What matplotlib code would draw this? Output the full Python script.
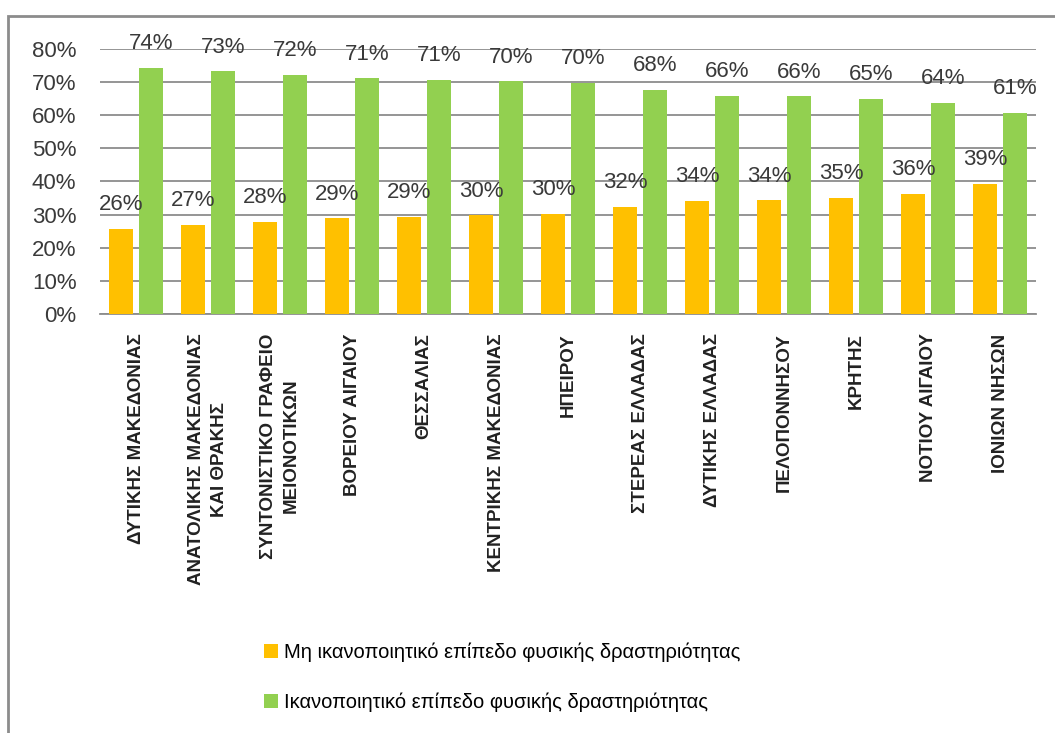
import matplotlib
import matplotlib.pyplot as plt
import numpy as np
from matplotlib.patches import Rectangle

matplotlib.use("Agg")

regions = [
    "ΔΥΤΙΚΗΣ ΜΑΚΕΔΟΝΙΑΣ",
    "ΑΝΑΤΟΛΙΚΗΣ ΜΑΚΕΔΟΝΙΑΣ\nΚΑΙ ΘΡΑΚΗΣ",
    "ΣΥΝΤΟΝΙΣΤΙΚΟ ΓΡΑΦΕΙΟ\nΜΕΙΟΝΟΤΙΚΩΝ",
    "ΒΟΡΕΙΟΥ ΑΙΓΑΙΟΥ",
    "ΘΕΣΣΑΛΙΑΣ",
    "ΚΕΝΤΡΙΚΗΣ ΜΑΚΕΔΟΝΙΑΣ",
    "ΗΠΕΙΡΟΥ",
    "ΣΤΕΡΕΑΣ ΕΛΛΑΔΑΣ",
    "ΔΥΤΙΚΗΣ ΕΛΛΑΔΑΣ",
    "ΠΕΛΟΠΟΝΝΗΣΟΥ",
    "ΚΡΗΤΗΣ",
    "ΝΟΤΙΟΥ ΑΙΓΑΙΟΥ",
    "ΙΟΝΙΩΝ ΝΗΣΩΝ",
]
not_enough = [25.7, 26.8, 27.8, 28.9, 29.3, 29.8, 30.2, 32.4, 34.2, 34.3, 35.0, 36.3, 39.2]
enough = [74.3, 73.2, 72.2, 71.1, 70.7, 70.2, 69.8, 67.6, 65.8, 65.7, 65.0, 63.7, 60.8]
series_names = [
    "Μη ικανοποιητικό επίπεδο φυσικής δραστηριότητας",
    "Ικανοποιητικό επίπεδο φυσικής δραστηριότητας",
]
yticks = [0, 10, 20, 30, 40, 50, 60, 70, 80]

txt_font = ["Liberation Sans", "DejaVu Sans"]

fig = plt.figure(figsize=(10.55, 7.33), dpi=100)
ax = fig.add_axes([0.0948, 0.5716, 0.8872, 0.3616])

x = np.arange(len(regions))
w = 0.33
off = 0.205
b1 = ax.bar(x - off, not_enough, w, color="#FFC000", label=series_names[0], zorder=3)
b2 = ax.bar(x + off, enough, w, color="#92D050", label=series_names[1], zorder=3)

for bars, vals in [(b1, not_enough), (b2, enough)]:
    for rect, v in zip(bars, vals):
        ax.annotate(f"{round(v)}%", (rect.get_x() + rect.get_width() / 2, v),
                    xytext=(0, 13.5), textcoords="offset points",
                    ha="center", va="baseline", fontsize=16, color="#3a3a3a",
                    family=txt_font, annotation_clip=False)

ax.set_xlim(-0.5, len(regions) - 0.5)
ax.set_ylim(0, 80)
ax.set_yticks(yticks)
ax.set_yticklabels([f"{t}%" for t in yticks], family=txt_font, fontsize=16, color="#3a3a3a")
ax.tick_params(axis="y", length=0, pad=17)
ax.tick_params(axis="x", length=0, pad=14)
ax.set_xticks(x)
ax.set_xticklabels(regions, rotation=90, va="top", ha="center", multialignment="center",
                   family=txt_font, fontsize=13.5, fontweight="bold", color="#222222",
                   linespacing=1.45)
ax.yaxis.grid(True, color="#8c8c8c", lw=1.3, zorder=0)
for s in ["left", "right", "top"]:
    ax.spines[s].set_visible(False)
ax.spines["bottom"].set_color("#8c8c8c")
ax.spines["bottom"].set_linewidth(1.3)

fig.legend(handles=[b1, b2], loc="upper left", bbox_to_anchor=(0.233, 0.148),
           bbox_transform=fig.transFigure, frameon=False, labelspacing=1.5,
           handlelength=0.7, handleheight=0.7, handletextpad=0.3,
           prop={"family": txt_font, "size": 14.5})

fig.patches.append(Rectangle((8 / 1055, -0.05), 1.1, 1 - 16 / 733 + 0.05,
                             transform=fig.transFigure, fill=False,
                             edgecolor="#8c8c8c", lw=2))

fig.savefig("out.png", dpi=100)
